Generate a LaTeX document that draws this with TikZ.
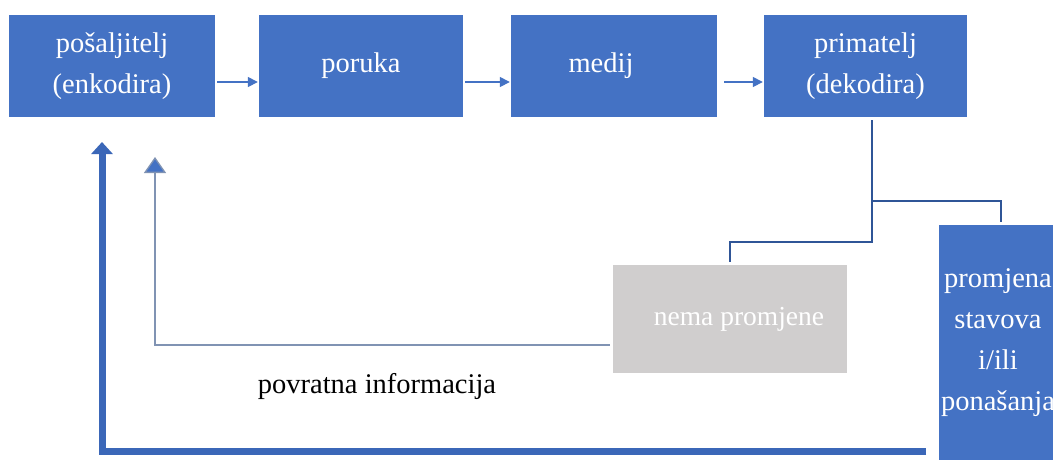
\documentclass[tikz,border=0pt]{standalone}
\usepackage{fontspec}
\setmainfont{Liberation Serif}
\usetikzlibrary{arrows.meta,calc}
\definecolor{boxblue}{HTML}{4472C4}
\definecolor{linkblue}{HTML}{2F5597}
\definecolor{thickblue}{HTML}{3B67B8}
\definecolor{fbline}{HTML}{8093B3}
\definecolor{boxgray}{HTML}{D0CECE}
\begin{document}
\begin{tikzpicture}[x=1pt,y=-1pt,
  bluebox/.style={rectangle,fill=boxblue,text=white,inner sep=0pt,align=center,
    font=\fontsize{28.5pt}{41pt}\selectfont},
  graybox/.style={rectangle,fill=boxgray,text=white,inner sep=0pt,align=center,
    font=\fontsize{27.5pt}{40pt}\selectfont},
  flow/.style={draw=boxblue,line width=1.5pt,-{Triangle[length=10pt,width=10pt]}},
  link/.style={draw=linkblue,line width=2.5pt},
  feedback/.style={draw=fbline,line width=1.3pt,-{Triangle[length=16pt,width=22pt,fill=boxblue]}},
  bigback/.style={draw=thickblue,line width=7pt,-{Triangle[length=12pt,width=21pt]}},
  lbl/.style={font=\fontsize{28.5pt}{32pt}\selectfont,text=black}]
\useasboundingbox (0,0) rectangle (1053,459);
\fill[white] (0,0) rectangle (1053,459);

\node[bluebox,minimum width=206pt,minimum height=102pt] (b1) at (112,66) {pošaljitelj\\(enkodira)};
\node[bluebox,minimum width=204pt,minimum height=102pt] (b2) at (361,66) {poruka};
\node[bluebox,minimum width=206pt,minimum height=102pt] (b3) at (614,66) {\hspace*{-26pt}medij};
\node[bluebox,minimum width=203pt,minimum height=102pt] (b4) at (865.5,66) {primatelj\\(dekodira)};
\node[graybox,minimum width=234pt,minimum height=108pt] (nema) at (730,319) {\hspace*{18pt}nema promjene};
\node[bluebox,minimum width=118pt,minimum height=236pt] (prom) at (998,343) {promjena\\stavova\\i/ili\\ponašanja};

\draw[flow] ($(b1.east)+(2,16)$) -- ($(b2.west)+(-1,16)$);
\draw[flow] ($(b2.east)+(2,16)$) -- ($(b3.west)+(-1,16)$);
\draw[flow] ($(b3.east)+(7,16)$) -- ($(b4.west)+(-1,16)$);

\coordinate (s) at ($(b4.south)+(6.5,3)$);
\coordinate (j1) at ($(s)+(0,81)$);
\coordinate (j2) at ($(s)+(0,122)$);
\draw[link] (s) -- (j2) -| ($(nema.north)+(0,-3)$);
\draw[link] (j1) -| ($(prom.north)+(3,-3)$);

\coordinate (fbtop) at (155,157);
\draw[feedback] ($(nema.west)+(-3,26)$) -| (fbtop);

\coordinate (bbstart) at (926,451);
\coordinate (bbtop) at (102,142);
\draw[bigback] (bbstart) -| (bbtop);

\node[lbl] (fbl) at (377,386) {povratna informacija};
\end{tikzpicture}
\end{document}
